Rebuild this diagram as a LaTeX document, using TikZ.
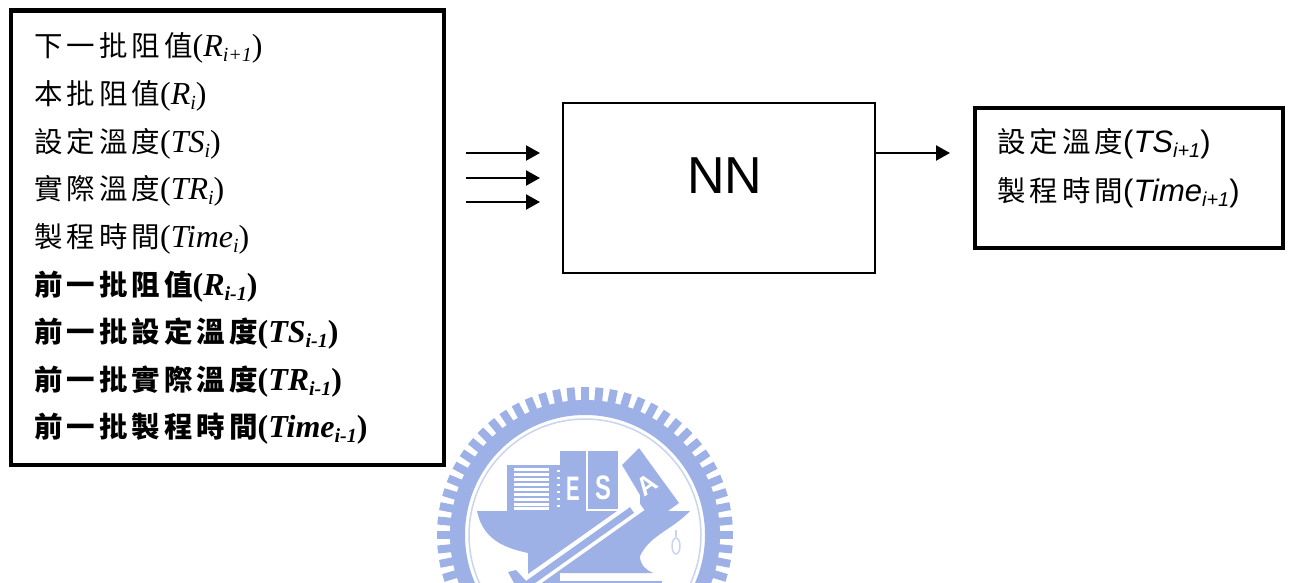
\documentclass[tikz,border=0pt]{standalone}
\usepackage{fontspec}
\setmainfont{Liberation Serif}
\setsansfont{Liberation Sans}
\newfontfamily\cjk[LetterSpace=14]{Noto Sans CJK TC}
\usetikzlibrary{arrows.meta}
\definecolor{wm}{HTML}{9DB1E6}
\definecolor{wmlight}{HTML}{C9D4F2}
\newcommand{\zh}[1]{{\fontsize{28.5}{30}\selectfont\cjk #1}}
\newcommand{\subx}[1]{\raisebox{-5pt}{\fontsize{20}{21}\selectfont\itshape #1}}
\tikzset{
  x=1pt,y=-1pt,
  thickbox/.style={draw=black,line width=4.5pt,inner sep=0pt},
  thinbox/.style={draw=black,line width=2pt,inner sep=0pt},
  serifline/.style={anchor=base west,inner sep=0pt,font=\fontsize{32}{34}\selectfont},
  boldline/.style={serifline,font=\fontsize{32}{34}\selectfont\bfseries},
  sansline/.style={anchor=base west,inner sep=0pt,font=\fontsize{31}{33}\selectfont\sffamily},
  flow/.style={draw=black,line width=2.2pt,-{Triangle[length=14pt,width=15pt]}},
  wmletter/.style={inner sep=0pt,text=white,font=\fontsize{34}{36}\selectfont\sffamily\bfseries},
}
\begin{document}
\begin{tikzpicture}
\useasboundingbox (0,0) rectangle (1291,583);
% watermark
\begin{scope}
  \clip (0,0) rectangle (1291,583);
  \coordinate (wc) at (585,535);
  \foreach \a in {0,5.625,...,359} {
    \draw[wm,line width=8pt] (wc) ++(\a:131) -- ++(\a:17);
  }
  \draw[wm,line width=15pt] (wc) circle[radius=127.5];
  \draw[wmlight,line width=1.5pt] (wc) circle[radius=116];
  % anvil
  \fill[wm] (477,511) -- (690,511) .. controls (672,530) and (650,535) .. (640,556)
    .. controls (640,565) and (646,570) .. (653,573) -- (528,573) -- (528,553)
    .. controls (505,548) and (483,540) .. (477,511) -- cycle;
  \fill[wm] (528,570) rectangle (560,583);
  \fill[wm] (550,581) rectangle (662,583);
  % books
  \fill[wm] (507,465) rectangle (560,511);
  \foreach \yy in {468,473,478,483,488,493,498,503,507} {
    \fill[white] (514,\yy) rectangle (549,\yy+3);
  }
  \foreach \yy in {470,477,484,491,498,505} {
    \fill[white] (557,\yy) rectangle (560,\yy+2);
  }
  \fill[wm] (560,451) rectangle (586,511);
  \fill[wm] (588,451) rectangle (618,509);
  \fill[wm] (622,465) -- (639,448) -- (679,503) -- (668,511) -- (640,511) -- (640,495) -- cycle;
  \node[wmletter] (wmE) at (573,489) {\scalebox{0.6}[1]{E}};
  \node[wmletter] (wmS) at (603,488) {\scalebox{0.7}[1]{S}};
  \node[wmletter,rotate=35,font=\fontsize{26}{28}\selectfont\sffamily\bfseries] (wmA) at (647,485) {A};
  % pen
  \draw[white,line width=15pt] (640,504) -- (520,589);
  \draw[wm,line width=7pt] (632,510) -- (525,586);
  \fill[wm] (508,572) -- (516,570) -- (528,583) -- (514,583) -- cycle;
  % drop
  \draw[wmlight,line width=1.5pt] (676,530) -- (676,537);
  \draw[wmlight,line width=1.5pt] (676,546) ellipse[x radius=4,y radius=8];
\end{scope}
% boxes
\node[thickbox,minimum width=433pt,minimum height=454.5pt] (inbox) at (227.5,237.75) {};
\node[thinbox,minimum width=312pt,minimum height=170pt] (nn) at (719,188) {};
\node[thickbox,minimum width=308pt,minimum height=140pt] (outbox) at (1129,178) {};
\node[inner sep=0pt,font=\fontsize{52}{54}\selectfont\sffamily] (nnlabel) at (725,176) {NN};
% input text
\node[serifline] (l1) at (34,57) {\zh{下一批阻值}(\textit{R}\subx{i+1})};
\node[serifline] (l2) at (34,104.6) {\zh{本批阻值}(\textit{R}\subx{i})};
\node[serifline] (l3) at (34,152.2) {\zh{設定溫度}(\textit{TS}\subx{i})};
\node[serifline] (l4) at (34,199.8) {\zh{實際溫度}(\textit{TR}\subx{i})};
\node[serifline] (l5) at (34,247.4) {\zh{製程時間}(\textit{Time}\subx{i})};
\node[boldline] (l6) at (34,295) {\zh{\bfseries 前一批阻值}(\textit{R}\subx{i-1})};
\node[boldline] (l7) at (34,342.6) {\zh{\bfseries 前一批設定溫度}(\textit{TS}\subx{i-1})};
\node[boldline] (l8) at (34,390.2) {\zh{\bfseries 前一批實際溫度}(\textit{TR}\subx{i-1})};
\node[boldline] (l9) at (34,437.8) {\zh{\bfseries 前一批製程時間}(\textit{Time}\subx{i-1})};
% output text
\node[sansline] (o1) at (997,153) {\zh{設定溫度}(\textit{TS}\subx{i+1})};
\node[sansline] (o2) at (997,201) {\zh{製程時間}(\textit{Time}\subx{i+1})};
% arrows
\coordinate (a1s) at (466,153); \coordinate (a1e) at (540,153);
\coordinate (a2s) at (466,178); \coordinate (a2e) at (540,178);
\coordinate (a3s) at (466,202); \coordinate (a3e) at (540,202);
\coordinate (oute) at (950,153);
\draw[flow] (a1s) -- (a1e);
\draw[flow] (a2s) -- (a2e);
\draw[flow] (a3s) -- (a3e);
\draw[flow] (nn.east |- oute) -- (oute);
\end{tikzpicture}
\end{document}
